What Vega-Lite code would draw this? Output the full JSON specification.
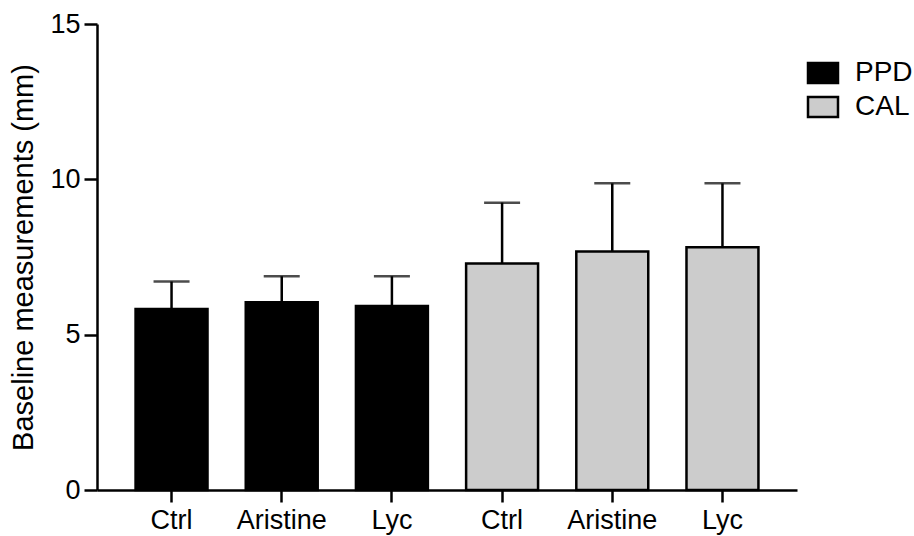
{
  "$schema": "https://vega.github.io/schema/vega-lite/v6.json",
  "width": 700,
  "height": 466,
  "autosize": "none",
  "padding": {"left": 97, "top": 24, "right": 117, "bottom": 46},
  "background": "white",
  "config": {
    "font": "Liberation Sans",
    "view": {"stroke": null},
    "axis": {"grid": false, "domainColor": "black", "tickColor": "black", "domainWidth": 2.5, "tickWidth": 2.5, "labelColor": "black", "titleColor": "black", "labelFont": "Liberation Sans", "titleFont": "Liberation Sans"}
  },
  "data": {
    "values": [
      {"key": "PPD|Ctrl", "measure": "PPD", "mean": 5.83, "upper": 6.71},
      {"key": "PPD|Aristine", "measure": "PPD", "mean": 6.04, "upper": 6.88},
      {"key": "PPD|Lyc", "measure": "PPD", "mean": 5.92, "upper": 6.88},
      {"key": "CAL|Ctrl", "measure": "CAL", "mean": 7.29, "upper": 9.25},
      {"key": "CAL|Aristine", "measure": "CAL", "mean": 7.68, "upper": 9.87},
      {"key": "CAL|Lyc", "measure": "CAL", "mean": 7.81, "upper": 9.87}
    ]
  },
  "encoding": {
    "x": {
      "field": "key", "type": "nominal", "sort": null,
      "scale": {"paddingInner": 0.347, "paddingOuter": 0.35},
      "axis": {"title": null, "labelAngle": 0, "labelFontSize": 27, "labelPadding": 5, "tickSize": 12, "labelExpr": "split(datum.value, '|')[1]"}
    }
  },
  "layer": [
    {
      "mark": {"type": "rule", "color": "black", "strokeWidth": 2.5},
      "encoding": {
        "y": {"field": "mean", "type": "quantitative"},
        "y2": {"field": "upper"}
      }
    },
    {
      "mark": {"type": "tick", "color": "black", "thickness": 2.5, "size": 36, "orient": "horizontal"},
      "encoding": {
        "y": {"field": "upper", "type": "quantitative"}
      }
    },
    {
      "mark": {"type": "bar", "stroke": "black", "strokeWidth": 2.5},
      "encoding": {
        "y": {
          "field": "mean", "type": "quantitative",
          "scale": {"domain": [0, 15], "nice": false},
          "axis": {"title": "Baseline measurements (mm)", "titleFontSize": 29, "titleFontWeight": "normal", "titlePadding": 11, "values": [0, 5, 10, 15], "labelFontSize": 27, "tickSize": 13, "labelPadding": 4}
        },
        "color": {
          "field": "measure", "type": "nominal",
          "scale": {"domain": ["PPD", "CAL"], "range": ["black", "#cccccc"]},
          "legend": {
            "title": null, "orient": "none", "legendX": 712, "legendY": 35,
            "symbolType": "M-1.5,-1H1.5V1H-1.5Z", "symbolSize": 400,
            "symbolStrokeColor": "black", "symbolStrokeWidth": 2.5, "symbolOpacity": 1,
            "labelFontSize": 28, "labelColor": "black", "labelOffset": 18, "rowPadding": 4, "padding": 0
          }
        }
      }
    }
  ]
}
